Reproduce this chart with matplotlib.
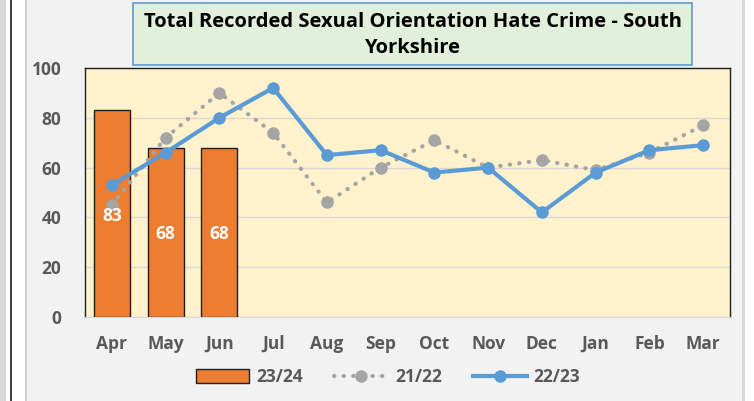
import numpy as np
import matplotlib.pyplot as plt
from matplotlib.patches import Rectangle
from matplotlib.lines import Line2D

months = ['Apr', 'May', 'Jun', 'Jul', 'Aug', 'Sep', 'Oct', 'Nov', 'Dec', 'Jan', 'Feb', 'Mar']
fy2324 = [83, 68, 68]
fy2122 = [45, 72, 90, 74, 46, 60, 71, 60, 63, 59, 66, 77]
fy2223 = [53, 66, 80, 92, 65, 67, 58, 60, 42, 58, 67, 69]
yticks = [0, 20, 40, 60, 80, 100]

plt.rcParams['font.family'] = ['Open Sans', 'DejaVu Sans']
W, H = 754, 401
fig = plt.figure(figsize=(W / 100, H / 100), dpi=100)
fig.patch.set_facecolor('#F2F2F2')

def px_rect(x0, y0, x1, y1, **kw):
    # rectangle given in pixel coords measured from the top-left corner
    fig.patches.append(Rectangle((x0 / W, 1 - y1 / H), (x1 - x0) / W, (y1 - y0) / H,
                                 transform=fig.transFigure, figure=fig, **kw))

# window frame strips at the sides
px_rect(0, 0, 6, H, color='#DADADA', lw=0)
px_rect(6, 0, 10, H, color='white', lw=0)
px_rect(10, 0, 12, H, color='#404040', lw=0)
px_rect(12, 0, 25, H, color='white', lw=0)
px_rect(25, 0, 27, H, color='#D0D0D0', lw=0)
px_rect(742, 0, 745, H, color='#D9D9D9', lw=0)
px_rect(745, 0, W, H, color='white', lw=0)

ax = fig.add_axes([85 / W, 1 - 317 / H, 645 / W, 249 / H])
ax.set_facecolor('#FFF2CC')
x = np.arange(len(months))

ax.set_ylim(0, 100)
ax.set_xlim(-0.5, len(months) - 0.5)
ax.set_yticks(yticks)
ax.yaxis.grid(True, color='#D9D9D9', lw=1)
ax.set_axisbelow(True)

bars = ax.bar(x[:len(fy2324)], fy2324, width=0.67, color='#ED7D31',
              edgecolor='#1F1F1F', lw=1, zorder=2, label='23/24')

ax.plot(x, fy2122, color='#A5A5A5', lw=3, ls=(0, (0.1, 2.2)), dash_capstyle='round',
        marker='o', ms=8, zorder=3)
ax.plot(x, fy2223, color='#5B9BD5', lw=3, marker='o', ms=8, zorder=4)

for xi, v in zip(x, fy2324):
    ax.text(xi, v / 2 - 0.8, str(v), ha='center', va='center', color='white',
            fontsize=12.5, fontweight='bold', zorder=5)

for s in ['left', 'top', 'right']:
    ax.spines[s].set_color('#1F1F1F')
    ax.spines[s].set_linewidth(1)
ax.spines['bottom'].set_color('#D9D9D9')

ax.set_xticks(x)
ax.set_xticklabels(months)
ax.tick_params(length=0, labelsize=12.5, labelcolor='#595959')
ax.tick_params(axis='y', pad=17)
ax.tick_params(axis='x', pad=13)
for lab in ax.get_xticklabels() + ax.get_yticklabels():
    lab.set_fontweight('bold')

# title box
px_rect(133, 3, 692, 65, facecolor='#E2EFDA', edgecolor='#5B9BD5', lw=1.2)
fig.text(412.5 / W, 1 - 35 / H,
         'Total Recorded Sexual Orientation Hate Crime - South\nYorkshire',
         ha='center', va='center', fontsize=14.5, fontweight='bold',
         color='black', linespacing=1.35)

handles = [
    Rectangle((0, 0), 1, 1, facecolor='#ED7D31', edgecolor='#1F1F1F', lw=1),
    Line2D([], [], color='#A5A5A5', lw=3, ls=(0, (0.1, 2.2)), dash_capstyle='round',
           marker='o', ms=8),
    Line2D([], [], color='#5B9BD5', lw=3, marker='o', ms=8),
]
leg = fig.legend(handles, ['23/24', '21/22', '22/23'], loc='center',
                 bbox_to_anchor=(388 / W, 1 - 377 / H), ncol=3, frameon=False,
                 handlelength=3.1, handleheight=0.8, columnspacing=1.8, handletextpad=0.4,
                 prop={'weight': 'bold', 'size': 12.5})
for t in leg.get_texts():
    t.set_color('#595959')

fig.savefig('out.png', dpi=100, facecolor=fig.get_facecolor())
